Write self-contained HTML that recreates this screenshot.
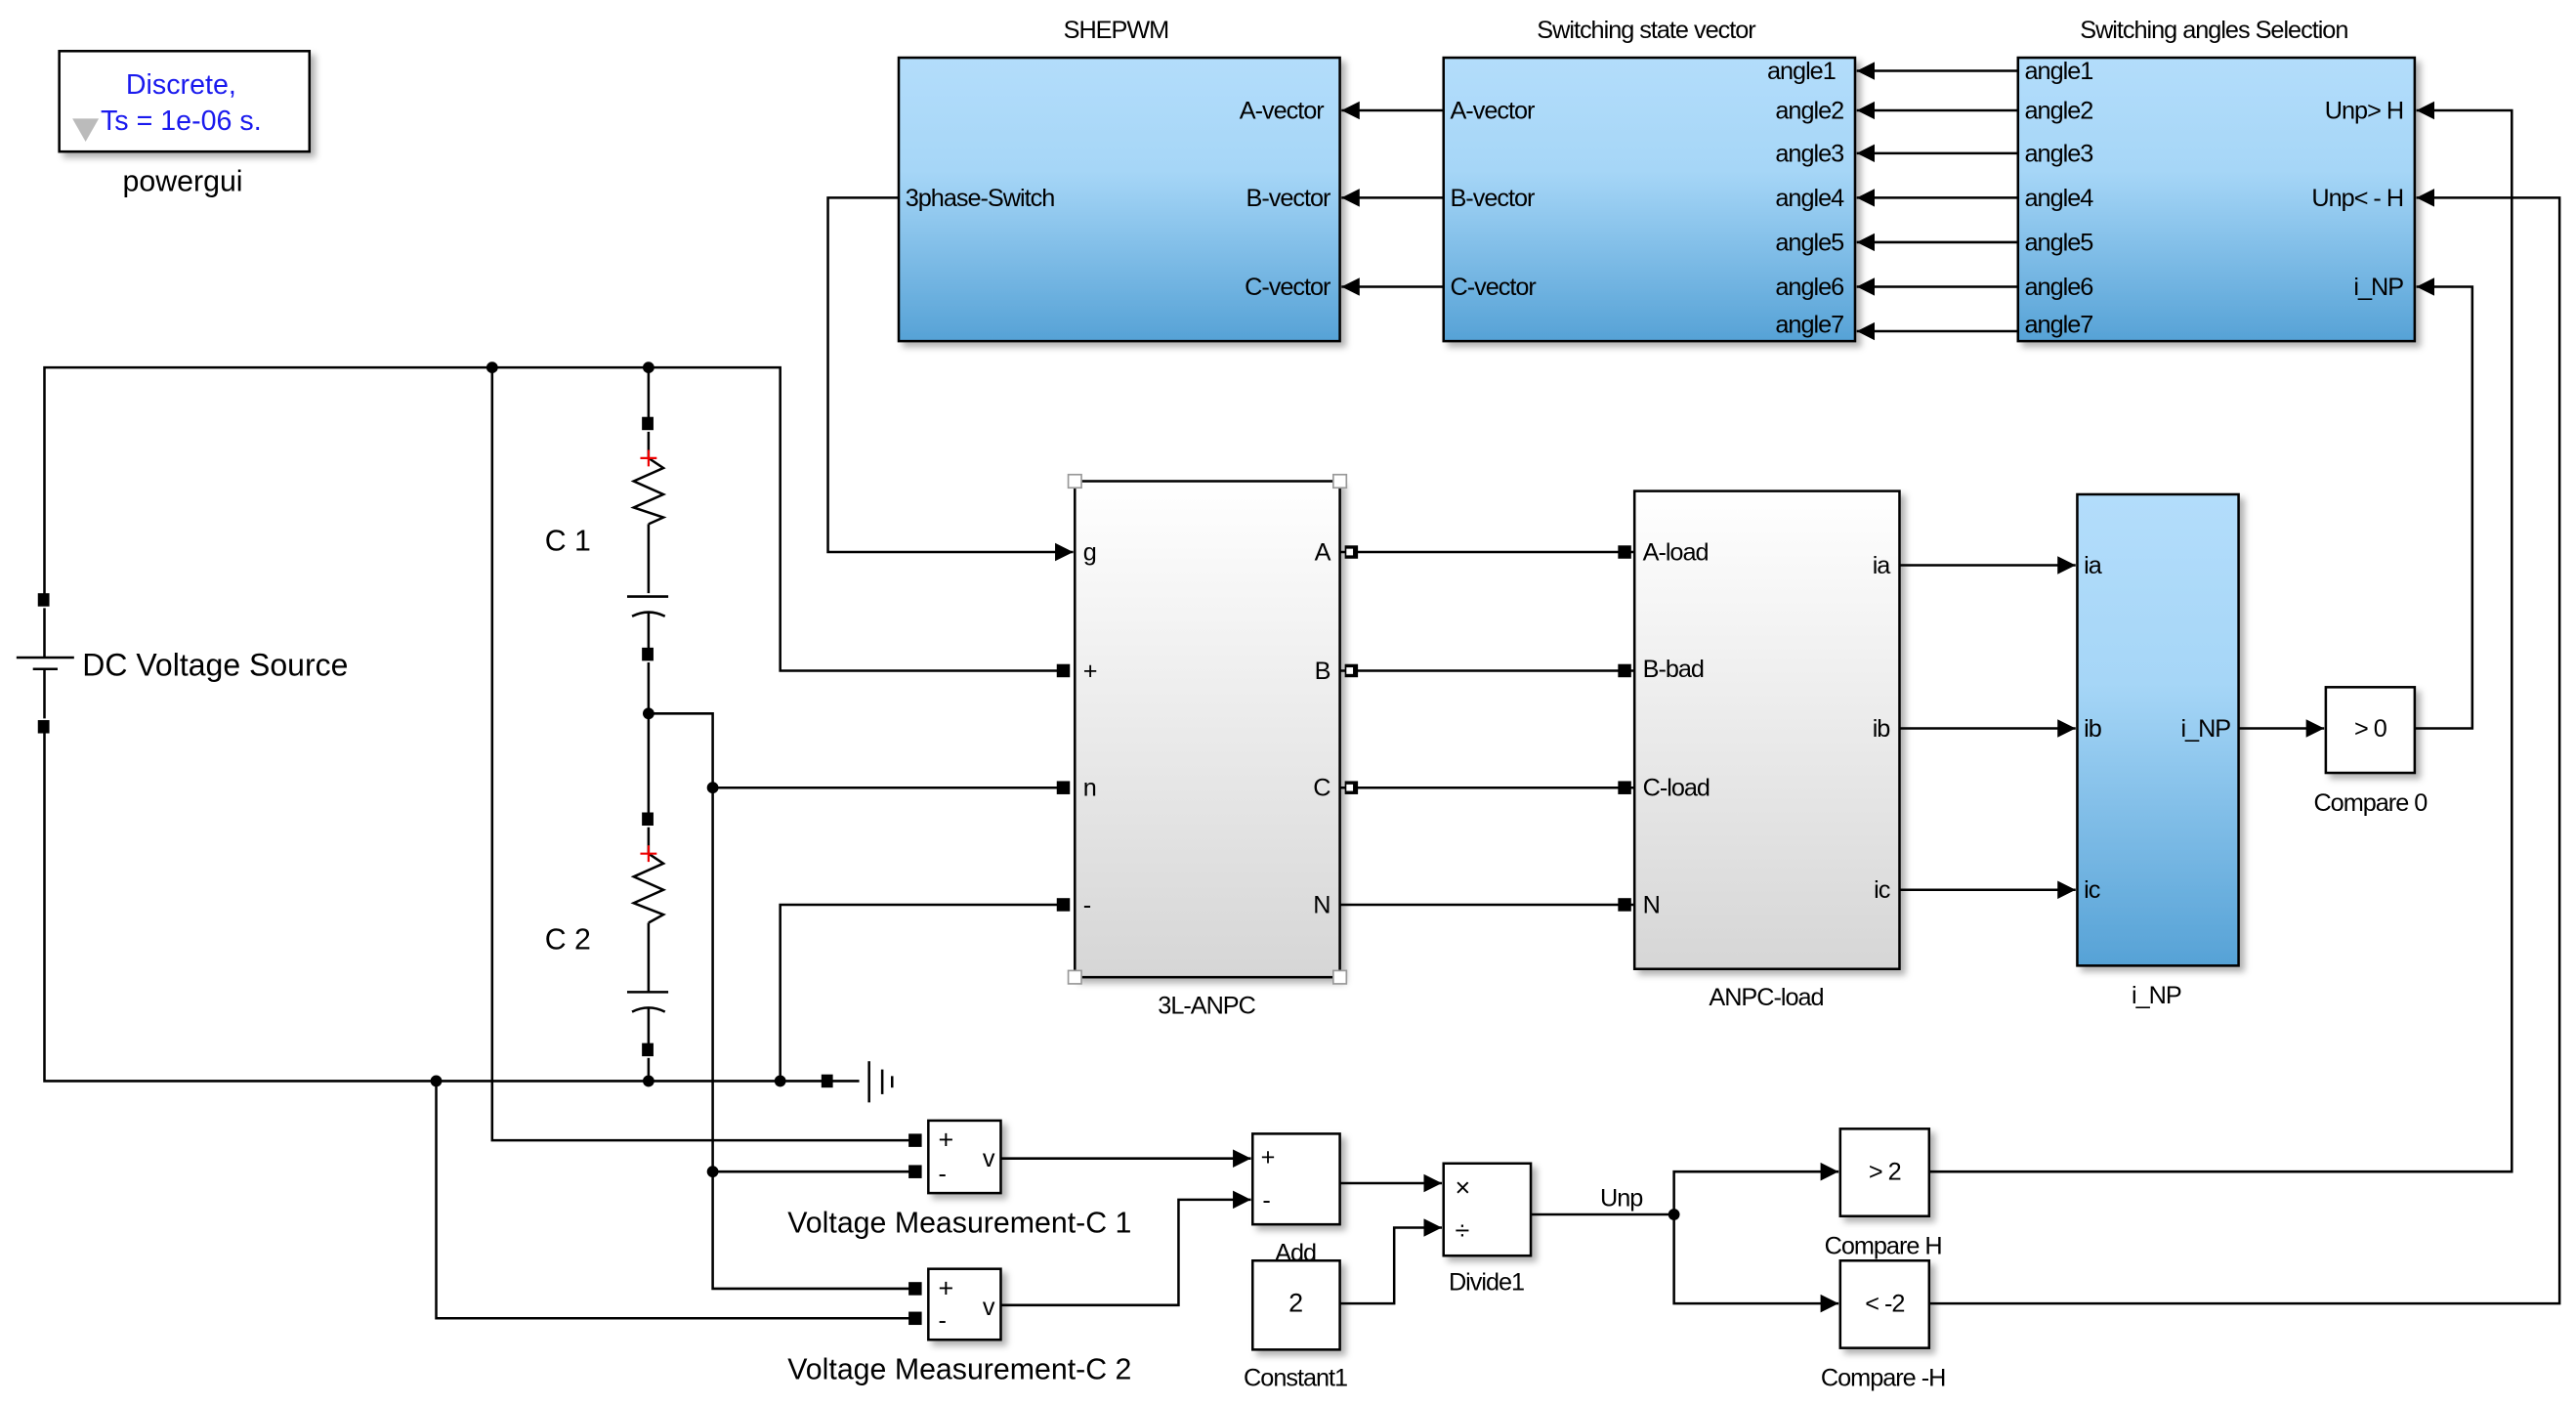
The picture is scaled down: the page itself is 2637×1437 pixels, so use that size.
<!DOCTYPE html>
<html><head><meta charset="utf-8"><style>html,body{margin:0;padding:0;background:#fff}svg{display:block}</style></head>
<body>
<svg width="2637" height="1437" viewBox="0 0 1565 852" preserveAspectRatio="none" xmlns="http://www.w3.org/2000/svg" font-family="'Liberation Sans', sans-serif">
<defs>
<linearGradient id="blue" x1="0" y1="0" x2="0" y2="1"><stop offset="0" stop-color="#b3ddfb"/><stop offset="0.4" stop-color="#a6d6f7"/><stop offset="1" stop-color="#56a2d6"/></linearGradient>
<linearGradient id="gray" x1="0" y1="0" x2="0" y2="1"><stop offset="0" stop-color="#ffffff"/><stop offset="1" stop-color="#d6d6d6"/></linearGradient>
<marker id="ar" viewBox="0 0 10 10" refX="10" refY="5" markerWidth="11" markerHeight="11" markerUnits="userSpaceOnUse" orient="auto"><path d="M0,0 L10,5 L0,10 z" fill="#000"/></marker>
<filter id="sh" x="-10%" y="-10%" width="130%" height="130%"><feDropShadow dx="3" dy="3" stdDeviation="2" flood-color="#000" flood-opacity="0.3"/></filter>
</defs>
<g stroke="#000" stroke-width="1.5" fill="none">
<!-- blocks -->
<rect x="36" y="31" width="152" height="61" fill="#fff" filter="url(#sh)"/>
<rect x="546" y="35" width="268" height="172" fill="url(#blue)" filter="url(#sh)"/>
<rect x="877" y="35" width="250" height="172" fill="url(#blue)" filter="url(#sh)"/>
<rect x="1226" y="35" width="241" height="172" fill="url(#blue)" filter="url(#sh)"/>
<rect x="653" y="292" width="161" height="301" fill="url(#gray)" filter="url(#sh)"/>
<rect x="993" y="298" width="161" height="290" fill="url(#gray)" filter="url(#sh)"/>
<rect x="1262" y="300" width="98" height="286" fill="url(#blue)" filter="url(#sh)"/>
<rect x="1413" y="417" width="54" height="52" fill="#fff" filter="url(#sh)"/>
<rect x="564" y="680" width="44" height="44" fill="#fff" filter="url(#sh)"/>
<rect x="564" y="770" width="44" height="43" fill="#fff" filter="url(#sh)"/>
<rect x="761" y="688" width="53" height="55" fill="#fff" filter="url(#sh)"/>
<rect x="761" y="765" width="53" height="54" fill="#fff" filter="url(#sh)"/>
<rect x="877" y="706" width="53" height="56" fill="#fff" filter="url(#sh)"/>
<rect x="1118" y="685" width="54" height="53" fill="#fff" filter="url(#sh)"/>
<rect x="1118" y="765" width="54" height="53" fill="#fff" filter="url(#sh)"/>
</g>
<g fill="#fff" stroke="#999" stroke-width="1">
<rect x="649" y="288" width="8" height="8"/><rect x="810" y="288" width="8" height="8"/>
<rect x="649" y="589" width="8" height="8"/><rect x="810" y="589" width="8" height="8"/>
</g>
<!-- arrows -->
<g stroke="#000" stroke-width="1.5" fill="none" marker-end="url(#ar)">
<path d="M877,67H815"/><path d="M877,120H815"/><path d="M877,174H815"/>
<path d="M1226,43H1128"/><path d="M1226,67H1128"/><path d="M1226,93H1128"/><path d="M1226,120H1128"/><path d="M1226,147H1128"/><path d="M1226,174H1128"/><path d="M1226,201H1128"/>
<path d="M1172,711H1526V67H1468"/>
<path d="M1172,791H1555V120H1468"/>
<path d="M1467,442H1502V174H1468"/>
<path d="M546,120H503V335H652"/>
<path d="M1154,343H1261"/><path d="M1154,442H1261"/><path d="M1154,540H1261"/>
<path d="M1360,442H1412"/>
<path d="M608,703H760"/>
<path d="M608,792H716V728H760"/>
<path d="M814,718H876"/>
<path d="M814,791H847V745H876"/>
<path d="M1017,737V711H1117"/>
<path d="M1017,737V791H1117"/>
</g>
<!-- circuit wires -->
<g stroke="#000" stroke-width="1.5" fill="none">
<path d="M27,364V223H474V407H646"/>
<path d="M27,441V656H503"/>
<path d="M299,223V692H556"/>
<path d="M394,223V257"/><path d="M394,262V278"/><path d="M394,318V360"/>
<path d="M394,372V397"/><path d="M394,402V497"/>
<path d="M394,433H433V782H556"/>
<path d="M433,478H646"/>
<path d="M433,711H556"/>
<path d="M394,502V518"/><path d="M394,560V602"/><path d="M394,612V637"/><path d="M394,642V656"/>
<path d="M474,656V549H646"/>
<path d="M265,656V800H556"/>
<path d="M814,335H993"/><path d="M814,407H993"/><path d="M814,478H993"/><path d="M814,549H993"/>
<path d="M930,737H1017"/>
<!-- resistors -->
<path d="M394,278L403,284L385,292L403,300L385,308L403,314L394,318"/>
<path d="M394,518L403,524L385,532L403,540L385,548L403,555L394,560"/>
<!-- capacitors -->
<path d="M381,362H406"/><path d="M384,374Q394,369 404,374"/>
<path d="M381,602H406"/><path d="M384,614Q394,609 404,614"/>
<!-- DC source -->
<path d="M10,399H45"/><path d="M20,406H35"/><path d="M27,369V399"/><path d="M27,406V436"/>
<!-- ground -->
<path d="M503,656H522"/><path d="M528,644V669"/><path d="M536,649V664"/><path d="M542,653V660"/>
</g>
<!-- red plus -->
<g stroke="#e00" stroke-width="1.3"><path d="M389,278H399M394,273V283"/><path d="M389,518H399M394,513V523"/></g>
<!-- ports & dots -->
<g fill="#000">
<rect x="23" y="360" width="7" height="8"/><rect x="23" y="437" width="7" height="8"/>
<rect x="390" y="253" width="7" height="8"/><rect x="390" y="393" width="7" height="8"/>
<rect x="390" y="493" width="7" height="8"/><rect x="390" y="633" width="7" height="8"/>
<rect x="499" y="652" width="7" height="8"/>
<rect x="642" y="403" width="8" height="8"/><rect x="642" y="474" width="8" height="8"/><rect x="642" y="545" width="8" height="8"/>
<rect x="817" y="331" width="8" height="8"/><rect x="817" y="403" width="8" height="8"/><rect x="817" y="474" width="8" height="8"/>
<rect x="983" y="331" width="8" height="8"/><rect x="983" y="403" width="8" height="8"/><rect x="983" y="474" width="8" height="8"/><rect x="983" y="545" width="8" height="8"/>
<rect x="552" y="688" width="8" height="8"/><rect x="552" y="707" width="8" height="8"/>
<rect x="552" y="778" width="8" height="8"/><rect x="552" y="796" width="8" height="8"/>
<circle cx="299" cy="223" r="3.5"/><circle cx="394" cy="223" r="3.5"/><circle cx="394" cy="433" r="3.5"/>
<circle cx="433" cy="478" r="3.5"/><circle cx="433" cy="711" r="3.5"/>
<circle cx="265" cy="656" r="3.5"/><circle cx="394" cy="656" r="3.5"/><circle cx="474" cy="656" r="3.5"/>
<circle cx="1017" cy="737" r="3.5"/>
</g>
<rect x="818" y="333" width="4" height="4" fill="#fff"/><rect x="818" y="405" width="4" height="4" fill="#fff"/><rect x="818" y="476" width="4" height="4" fill="#fff"/>
<!-- texts -->
<g font-size="15" fill="#000" letter-spacing="-0.6">
<text x="110" y="57" font-size="17" fill="#1a1aee" text-anchor="middle" letter-spacing="0">Discrete,</text>
<text x="110" y="79" font-size="17" fill="#1a1aee" text-anchor="middle" letter-spacing="0">Ts = 1e-06 s.</text>
<path d="M44,72 L60,72 L52,86z" fill="#bbb"/>
<text x="111" y="116" font-size="18" text-anchor="middle" letter-spacing="0">powergui</text>
<text x="678" y="23" text-anchor="middle">SHEPWM</text>
<text x="1000" y="23" text-anchor="middle">Switching state vector</text>
<text x="1345" y="23" text-anchor="middle">Switching angles Selection</text>
<g text-anchor="end"><text x="804" y="72">A-vector</text><text x="808" y="125">B-vector</text><text x="808" y="179">C-vector</text></g>
<text x="550" y="125">3phase-Switch</text>
<text x="881" y="72">A-vector</text><text x="881" y="125">B-vector</text><text x="881" y="179">C-vector</text>
<g text-anchor="end"><text x="1115" y="48">angle1</text><text x="1120" y="72">angle2</text><text x="1120" y="98">angle3</text><text x="1120" y="125">angle4</text><text x="1120" y="152">angle5</text><text x="1120" y="179">angle6</text><text x="1120" y="202">angle7</text></g>
<text x="1230" y="48">angle1</text><text x="1230" y="72">angle2</text><text x="1230" y="98">angle3</text><text x="1230" y="125">angle4</text><text x="1230" y="152">angle5</text><text x="1230" y="179">angle6</text><text x="1230" y="202">angle7</text>
<g text-anchor="end"><text x="1460" y="72">Unp&gt; H</text><text x="1460" y="125">Unp&lt; - H</text><text x="1460" y="179">i_NP</text></g>
<text x="658" y="340">g</text><text x="658" y="412">+</text><text x="658" y="483">n</text><text x="658" y="554">-</text>
<g text-anchor="end"><text x="808" y="340">A</text><text x="808" y="412">B</text><text x="808" y="483">C</text><text x="808" y="554">N</text></g>
<text x="733" y="615" text-anchor="middle">3L-ANPC</text>
<text x="998" y="340">A-load</text><text x="998" y="411">B-bad</text><text x="998" y="483">C-load</text><text x="998" y="554">N</text>
<g text-anchor="end"><text x="1148" y="348">ia</text><text x="1148" y="447">ib</text><text x="1148" y="545">ic</text><text x="1355" y="447">i_NP</text></g>
<text x="1073" y="610" text-anchor="middle">ANPC-load</text>
<text x="1266" y="348">ia</text><text x="1266" y="447">ib</text><text x="1266" y="545">ic</text>
<text x="1310" y="609" text-anchor="middle">i_NP</text>
<text x="1440" y="447" text-anchor="middle">&gt; 0</text>
<text x="1440" y="492" text-anchor="middle">Compare 0</text>
<text x="50" y="410" font-size="19" letter-spacing="0">DC Voltage Source</text>
<text x="345" y="334" font-size="18" text-anchor="middle" letter-spacing="0">C 1</text>
<text x="345" y="576" font-size="18" text-anchor="middle" letter-spacing="0">C 2</text>
<text x="570" y="697" font-size="16">+</text><text x="570" y="717">-</text><text x="597" y="708">v</text>
<text x="570" y="787" font-size="16">+</text><text x="570" y="806">-</text><text x="597" y="798">v</text>
<text x="583" y="748" font-size="18" text-anchor="middle" letter-spacing="0">Voltage Measurement-C 1</text>
<text x="583" y="837" font-size="18" text-anchor="middle" letter-spacing="0">Voltage Measurement-C 2</text>
<text x="766" y="707">+</text><text x="767" y="733">-</text>
<text x="787" y="765" text-anchor="middle">Add</text>
<text x="787" y="796" text-anchor="middle" font-size="16">2</text>
<text x="787" y="841" text-anchor="middle">Constant1</text>
<text x="884" y="726" font-size="16">×</text><text x="884" y="752" font-size="16">÷</text>
<text x="903" y="783" text-anchor="middle">Divide1</text>
<text x="985" y="732" text-anchor="middle">Unp</text>
<text x="1145" y="716" text-anchor="middle">&gt; 2</text>
<text x="1145" y="796" text-anchor="middle">&lt; -2</text>
<text x="1144" y="761" text-anchor="middle">Compare H</text>
<text x="1144" y="841" text-anchor="middle">Compare -H</text>
</g>
</svg>
</body></html>
